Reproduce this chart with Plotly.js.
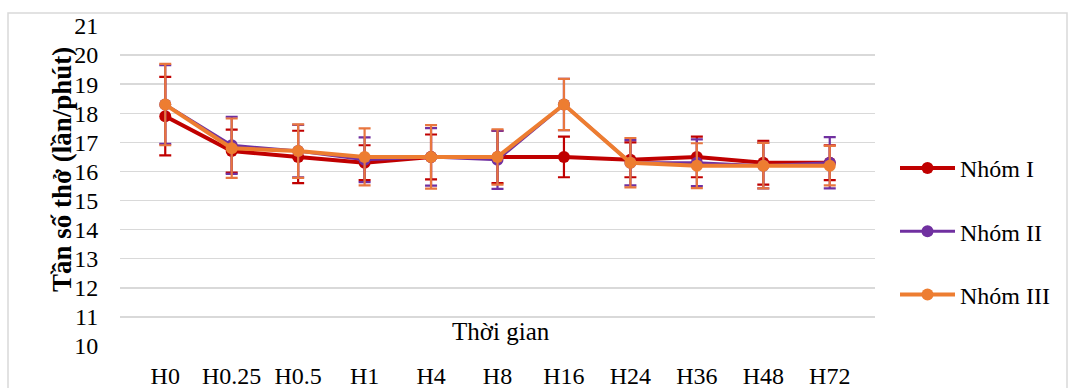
<!DOCTYPE html>
<html>
<head>
<meta charset="utf-8">
<script src="https://cdn.plot.ly/plotly-3.0.1.min.js"></script>
<style>html,body{margin:0;padding:0;background:#fff;}#chart{width:1072px;height:388px;}</style>
</head>
<body>
<div id="chart"></div>
<script>
const categories = ["H0","H0.25","H0.5","H1","H4","H8","H16","H24","H36","H48","H72"];
const group1Mean = [17.9,16.7,16.5,16.3,16.5,16.5,16.5,16.4,16.5,16.3,16.3];
const group1Sd   = [1.35,0.74,0.9,0.6,0.77,0.9,0.7,0.6,0.7,0.75,0.6];
const group2Mean = [18.3,16.9,16.7,16.4,16.5,16.4,18.3,16.3,16.3,16.2,16.3];
const group2Sd   = [1.35,0.98,0.9,0.77,0.99,1.0,0.88,0.78,0.8,0.78,0.88];
const group3Mean = [18.3,16.8,16.7,16.5,16.5,16.5,18.3,16.3,16.2,16.2,16.2];
const group3Sd   = [1.4,1.02,0.92,0.98,1.09,0.95,0.88,0.85,0.77,0.78,0.68];
const seriesNames = ["Nhóm I","Nhóm II","Nhóm III"];
const yTickVals = [10,11,12,13,14,15,16,17,18,19,20,21];

const colors = ["#c00000","#7030a0","#ed7d31"];
const errColors = ["#c00000","#7030a0","#e8763f"];
const lineWidths = [4,3,4];
const means = [group1Mean, group2Mean, group3Mean];
const sds = [group1Sd, group2Sd, group3Sd];

const FONT = "Liberation Serif, Times New Roman, serif";

const traces = seriesNames.map((name, i) => ({
  type: "scatter",
  mode: "lines+markers",
  name: name,
  legendgroup: "g" + i,
  x: categories,
  y: means[i],
  line: {color: colors[i], width: lineWidths[i]},
  marker: {color: colors[i], size: 12},
  error_y: {type: "data", array: sds[i], visible: true, color: errColors[i], thickness: 2.2, width: 6}
}));

const L = 120, R = 875, T = 26, B = 346;
const pw = R - L, ph = B - T;
const px = v => (v - L) / pw;
const py = v => (B - v) / ph;

const layout = {
  width: 1072, height: 388,
  margin: {l: L, r: 1072 - R, t: T, b: 388 - B, pad: 0},
  paper_bgcolor: "#ffffff",
  plot_bgcolor: "#ffffff",
  font: {family: FONT, size: 24, color: "#000"},
  showlegend: true,
  legend: {
    x: px(895), xanchor: "left",
    y: py(146), yanchor: "top",
    font: {family: FONT, size: 24, color: "#000"},
    tracegroupgap: 29,
    itemwidth: 55,
    bgcolor: "rgba(0,0,0,0)"
  },
  xaxis: {
    type: "category",
    showgrid: false,
    zeroline: false,
    showline: false,
    ticks: "outside",
    ticklen: 8,
    tickcolor: "rgba(0,0,0,0)",
    tickfont: {family: FONT, size: 24, color: "#000"},
    fixedrange: true
  },
  yaxis: {
    range: [10, 21],
    tickvals: yTickVals,
    ticktext: yTickVals.map(String),
    showgrid: true,
    gridcolor: "#d9d9d9",
    gridwidth: 1.5,
    zeroline: false,
    showline: false,
    ticks: "outside",
    ticklen: 16,
    tickcolor: "rgba(0,0,0,0)",
    tickfont: {family: FONT, size: 24, color: "#000"},
    fixedrange: true
  },
  annotations: [{
    text: "<b>Tần số thở (lần/phút)</b>",
    xref: "paper", yref: "paper",
    x: px(62), y: py(170),
    xanchor: "center", yanchor: "middle",
    textangle: -90,
    showarrow: false,
    font: {family: FONT, size: 27, color: "#000"}
  }, {
    text: "Thời gian",
    xref: "paper", yref: "y",
    x: px(501), y: 10.5,
    xanchor: "center", yanchor: "middle",
    showarrow: false,
    font: {family: FONT, size: 25, color: "#000"}
  }],
  shapes: [{
    type: "rect", xref: "paper", yref: "paper",
    x0: px(8), x1: px(1067), y0: py(420), y1: py(13),
    line: {color: "#d9d9d9", width: 1.5},
    fillcolor: "rgba(0,0,0,0)",
    layer: "below"
  }]
};

Plotly.newPlot("chart", traces, layout, {displayModeBar: false, staticPlot: true});
</script>
</body>
</html>
